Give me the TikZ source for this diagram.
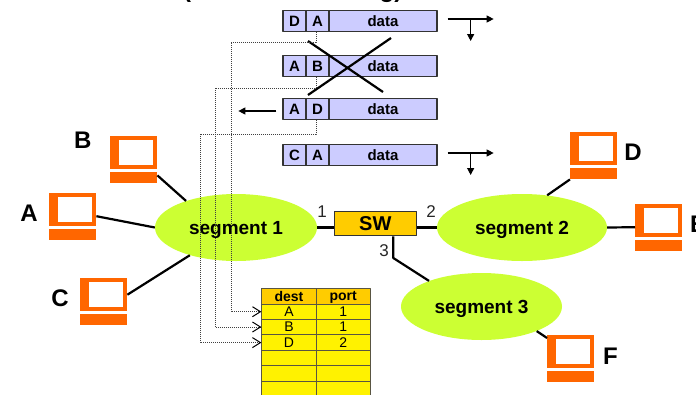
\documentclass[tikz,border=0pt]{standalone}
\usepackage{fontspec}
\setmainfont{Liberation Sans}
\usetikzlibrary{shapes.geometric,arrows.meta}
\definecolor{pcorange}{HTML}{FF6600}
\definecolor{seggreen}{HTML}{CCFF33}
\definecolor{swamber}{HTML}{FFCC00}
\definecolor{pktblue}{HTML}{CCCCFF}
\tikzset{
	link/.style={line width=2.2pt},
	flow/.style={line width=1.2pt},
	trace/.style={densely dotted,line width=1pt,black!75,-{Straight Barb[length=8pt,width=10pt,black]}},
	segment/.style={ellipse,fill=seggreen,inner sep=0pt,text depth=0pt,font=\fontsize{19}{19}\selectfont\bfseries},
	pcpart/.style={rectangle,fill=pcorange,inner sep=0pt,minimum width=47pt},
	field/.style={rectangle,draw=black!80,line width=1.3pt,fill=pktblue,inner sep=0pt,minimum height=20.5pt,font=\fontsize{15}{15}\selectfont\bfseries},
	cell/.style={rectangle,draw=black!75!yellow,line width=1pt,fill=yellow,inner sep=0pt,minimum width=54.2pt,minimum height=15.4pt,font=\fontsize{14}{14}\selectfont},
	head/.style={cell,fill=swamber,text depth=0pt,font=\fontsize{14}{14}\selectfont\bfseries},
	station/.style={font=\fontsize{24}{24}\selectfont\bfseries},
	portno/.style={font=\fontsize{17}{17}\selectfont,text=black!85},
}
\newcommand{\computer}[3]{
	\node[pcpart,minimum height=33pt,anchor=north west] (#1) at (#2,#3) {};
	\node[rectangle,fill=white,inner sep=0pt,minimum width=34.2pt,minimum height=25pt,anchor=north west] (#1scr) at (#2+9,#3+3.5) {};
	\node[pcpart,minimum height=11pt,anchor=north west] (#1base) at (#2,#3+36) {};
}
\begin{document}
\begin{tikzpicture}[x=1pt,y=-1pt,line join=round,>={Triangle[length=7pt,width=7pt]}]
	\useasboundingbox (0,0) rectangle (696,394);
	
	\node[segment,minimum width=162pt,minimum height=67pt] (seg1) at (236,227.5) {segment 1};
	\node[segment,minimum width=170pt,minimum height=67pt] (seg2) at (522,227.5) {segment 2};
	\node[segment,minimum width=161pt,minimum height=67pt] (seg3) at (481.5,306.5) {segment 3};
	\node[rectangle,draw=black!80,line width=1pt,fill=swamber,minimum width=82.5pt,minimum height=24.5pt,inner sep=0pt,font=\fontsize{20}{20}\selectfont\bfseries] (sw) at (375.3,223.7) {SW};
	
	\computer{pcA}{49}{193}
	\computer{pcB}{110}{136}
	\computer{pcC}{80}{278}
	\computer{pcD}{570}{132}
	\computer{pcE}{635}{204}
	\computer{pcF}{547}{335}
	
	\node[station] (lblA) at (29,213) {A};
	\node[station] (lblB) at (82.7,140) {B};
	\node[station] (lblC) at (60,298) {C};
	\node[station] (lblD) at (633,152) {D};
	\node[station,anchor=west,inner sep=0pt] (lblE) at (690,224) {E};
	\node[station] (lblF) at (610.5,356) {F};
	\node[station,anchor=base] (ttlL) at (187,-3) {(};
	\node[station,anchor=base] (ttlR) at (391,-3) {g)};
	
	\draw[link] ([yshift=-6.5pt]pcA.east) -- (seg1.west);
	\draw[link] ([yshift=-6pt]pcB.south east) -- (seg1.152);
	\draw[link] (pcC.east) -- (seg1.211);
	\draw[link] (pcDbase.south west) -- (seg2.52);
	\draw[link] (seg2.east) -- ([yshift=-6.5pt]pcE.west);
	\draw[link] (seg3.336) -- ([yshift=-3pt]pcF.north west);
	\draw[link] (seg1.east) -- (sw.west |- seg1.east);
	\draw[link] (sw.east |- seg2.west) -- (seg2.west);
	\coordinate (swknee) at (393.3,258);
	\draw[link] (sw.south -| swknee) -- (swknee) -- (seg3.154);
	
	\node[portno] (port1) at (322,212) {1};
	\node[portno] (port2) at (431,212) {2};
	\node[portno] (port3) at (384,251) {3};
	
	\foreach \n/\y/\s/\d in {1/21/D/A,2/66/A/B,3/109/A/D,4/155/C/A}{
		\node[field,minimum width=23pt] (src\n) at (294.5,\y) {\s};
		\node[field,minimum width=23pt] (dst\n) at (317.5,\y) {\d};
		\node[field,minimum width=108pt] (data\n) at (383,\y) {data};
	}
	
	\foreach \n in {1,4}{
		\coordinate (fwd\n) at ([xshift=33pt,yshift=2pt]data\n.east);
		\draw[flow,->] ([xshift=-23pt]fwd\n) -- ([xshift=23pt]fwd\n);
		\draw[flow,->] (fwd\n) -- ++(0,22);
	}
	\coordinate (back3) at ([xshift=-6pt,yshift=-2pt]src3.west);
	\draw[flow,->] (back3) -- ++(-38,0);
	
	\coordinate (crossa) at (308,41);
	\coordinate (crossb) at (383,92);
	\coordinate (crossc) at (391,38);
	\coordinate (crossd) at (308,95);
	\draw[link] (crossa) -- (crossb);
	\draw[link] (crossc) -- (crossd);
	
	\node[head] (destH) at (289,296.3) {dest};
	\node[head] (portH) at (343.2,296.3) {port};
	\foreach \r/\y/\a/\b in {1/311.7/A/1,2/327/B/1,3/342.6/D/2,4/358/{}/{},5/373.5/{}/{},6/388.8/{}/{}}{
		\node[cell] (dest\r) at (289,\y) {\a};
		\node[cell] (port\r) at (343.2,\y) {\b};
	}
	
	\draw[trace] ([xshift=-1.5pt]dst1.south) |- (231,42) |- (dest1.west);
	\draw[trace] ([xshift=-1.5pt]dst2.south) |- (215,88) |- (dest2.west);
	\draw[trace] ([xshift=-1.5pt]dst3.south) |- (200,134) |- (dest3.west);
\end{tikzpicture}
\end{document}
